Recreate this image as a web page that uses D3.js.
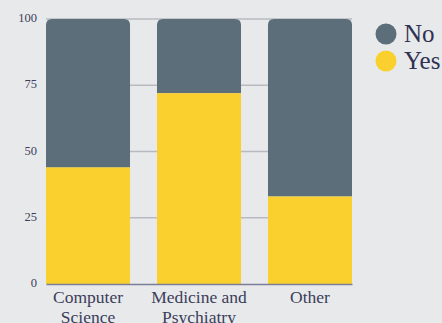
<!DOCTYPE html>
<html>
<head>
<meta charset="utf-8">
<script src="https://cdn.jsdelivr.net/npm/d3@7"></script>
<style>
    body { margin: 0; background: #e8e9eb; }
    svg { display: block; }
    svg text { font-family: "Liberation Serif", "DejaVu Serif", serif; }
</style>
</head>
<body>
<svg id="chart"></svg>
<script>
const categories = [['Computer', 'Science'], ['Medicine and', 'Psychiatry'], ['Other']]
const yesValues = [44, 72, 33]
const noValues = [56, 28, 67]
const yTicks = [0, 25, 50, 75, 100]
const seriesNames = ['No', 'Yes']

const WIDTH = 442
const HEIGHT = 323
const margin = { top: 19, right: 90, bottom: 39, left: 46 }
const colors = { No: '#5d6e7b', Yes: '#f9d02d' }

const svg = d3.select('#chart')
    .attr('width', WIDTH)
    .attr('height', HEIGHT)

const keys = categories.map((c, i) => i)
const x = d3.scaleBand()
    .domain(keys)
    .range([margin.left, WIDTH - margin.right])
    .paddingInner(0.243)
    .paddingOuter(0)

const y = d3.scaleLinear()
    .domain([0, 100])
    .range([HEIGHT - margin.bottom, margin.top])

// gridlines
svg.append('g')
    .selectAll('line')
    .data(yTicks.filter(t => t > 0))
    .join('line')
    .attr('x1', margin.left)
    .attr('x2', WIDTH - margin.right)
    .attr('y1', d => y(d))
    .attr('y2', d => y(d))
    .attr('stroke', '#b9bac1')
    .attr('stroke-width', 1.5)

const r = 6
// "No" part sits on top of "Yes", rounded top corners
svg.append('g')
    .selectAll('path')
    .data(keys)
    .join('path')
    .attr('fill', colors.No)
    .attr('d', i => {
        const x0 = x(i), x1 = x(i) + x.bandwidth()
        const top = y(yesValues[i] + noValues[i]), bot = y(yesValues[i])
        return `M${x0},${bot}V${top + r}Q${x0},${top} ${x0 + r},${top}H${x1 - r}Q${x1},${top} ${x1},${top + r}V${bot}Z`
    })

svg.append('g')
    .selectAll('rect')
    .data(keys)
    .join('rect')
    .attr('fill', colors.Yes)
    .attr('x', i => x(i))
    .attr('width', x.bandwidth())
    .attr('y', i => y(yesValues[i]))
    .attr('height', i => y(0) - y(yesValues[i]))

// y axis
const yAxis = svg.append('g')
    .attr('transform', `translate(${margin.left - 9},0)`)
    .call(d3.axisLeft(y).tickValues(yTicks).tickSize(0).tickPadding(0))
yAxis.attr('font-family', null)
yAxis.select('.domain').remove()
yAxis.selectAll('text')
    .attr('font-size', 12.5)
    .attr('fill', '#3b3e5a')
    .attr('dy', '0.2em')

// x axis
const xAxis = svg.append('g')
    .attr('transform', `translate(0,${y(0)})`)
    .call(d3.axisBottom(x).tickSize(0).tickPadding(0).tickFormat(''))
xAxis.attr('font-family', null)
xAxis.select('.domain').attr('stroke', '#7b7e98').attr('stroke-width', 1.5)
xAxis.selectAll('.tick text').remove()
xAxis.selectAll('.tick')
    .append('text')
    .attr('fill', '#3b3e5a')
    .attr('font-size', 17.5)
    .attr('text-anchor', 'middle')
    .selectAll('tspan')
    .data(i => categories[i])
    .join('tspan')
    .attr('x', 0)
    .attr('y', (d, j) => 19 + j * 20)
    .text(d => d)

// legend
const legend = svg.append('g')
    .attr('transform', `translate(386,34)`)
    .selectAll('g')
    .data(seriesNames)
    .join('g')
    .attr('transform', (d, i) => `translate(0,${i * 27})`)
legend.append('circle')
    .attr('r', 10.5)
    .attr('fill', d => colors[d])
legend.append('text')
    .attr('x', 18)
    .attr('y', 8)
    .attr('font-size', 25)
    .attr('fill', '#2f3252')
    .text(d => d)
</script>
</body>
</html>
